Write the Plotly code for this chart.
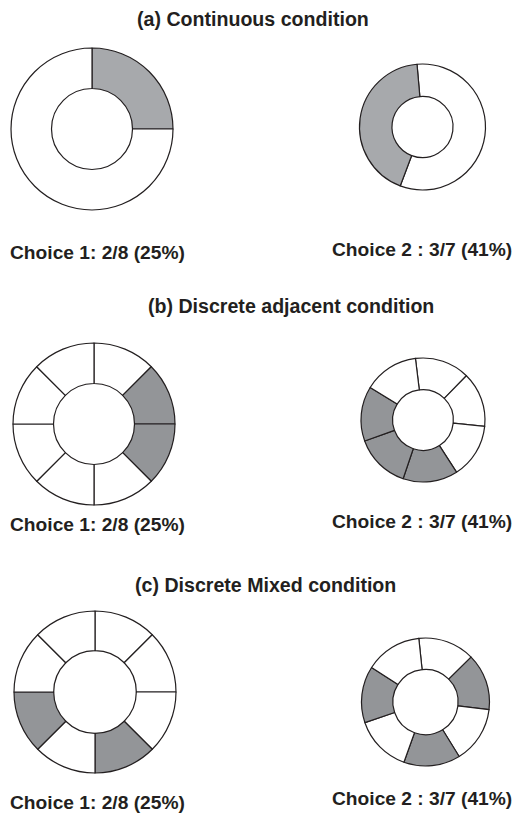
import plotly.graph_objects as go

W, H = 515, 816

# ---- data ----
titles = ["(a) Continuous condition", "(b) Discrete adjacent condition", "(c) Discrete Mixed condition"]
labels_left = ["Choice 1: 2/8 (25%)", "Choice 1: 2/8 (25%)", "Choice 1: 2/8 (25%)"]
labels_right = ["Choice 2 : 3/7 (41%)", "Choice 2 : 3/7 (41%)", "Choice 2 : 3/7 (41%)"]

# continuous: segment sizes (clockwise order) and whether filled
cont_c1_values = [2, 6]
cont_c1_filled = [1, 0]
cont_c2_values = [4, 3]
cont_c2_filled = [0, 1]

# discrete: one unit per segment, 1 = filled
adjacent_c1 = [0, 1, 1, 0, 0, 0, 0, 0]
adjacent_c2 = [0, 0, 0, 1, 1, 1, 0]
mixed_c1 = [0, 0, 0, 1, 0, 1, 0, 0]
mixed_c2 = [0, 1, 0, 1, 0, 1, 0]

FONT = "Arial, 'Liberation Sans', Helvetica, sans-serif"
GRAY_A = "#a7a9ac"
GRAY_BC = "#939598"


def dom(cx, cy, r):
    return dict(x=[(cx - r) / W, (cx + r) / W], y=[(H - cy - r) / H, (H - cy + r) / H])


def pie(values, filled, gray, cx, cy, r, hole, rotation):
    return go.Pie(
        values=values,
        sort=False,
        direction="clockwise",
        rotation=rotation,
        hole=hole,
        textinfo="none",
        hoverinfo="skip",
        showlegend=False,
        marker=dict(colors=[gray if f else "white" for f in filled],
                    line=dict(color="#231f20", width=1.2)),
        domain=dom(cx, cy, r),
    )


fig = go.Figure()
fig.add_trace(pie(cont_c1_values, cont_c1_filled, GRAY_A, 92, 129, 81, 0.5, 0))
fig.add_trace(pie(cont_c2_values, cont_c2_filled, GRAY_A, 422.5, 127, 63, 0.485, -5))
fig.add_trace(pie([1] * len(adjacent_c1), adjacent_c1, GRAY_BC, 94, 424, 81, 0.5, 0))
fig.add_trace(pie([1] * len(adjacent_c2), adjacent_c2, GRAY_BC, 423, 420, 62, 0.49, -7))
fig.add_trace(pie([1] * len(mixed_c1), mixed_c1, GRAY_BC, 95, 692, 81, 0.51, 0))
fig.add_trace(pie([1] * len(mixed_c2), mixed_c2, GRAY_BC, 425.5, 702, 64, 0.51, -6))

annotations = []
title_pos = [(253, 19), (290.5, 306), (265, 585)]
left_pos = [(8, 252), (8, 524), (8, 802)]
right_pos = [(330, 249), (330, 521), (330, 798)]


def ann(text, x, y, anchor, size):
    return dict(text="<b>%s</b>" % text, x=x / W, y=1 - y / H, xref="paper", yref="paper",
                xanchor=anchor, yanchor="middle", showarrow=False,
                font=dict(family=FONT, size=size, color="#231f20"))


for i in range(3):
    annotations.append(ann(titles[i], title_pos[i][0], title_pos[i][1], "center", 19.6))
    annotations.append(ann(labels_left[i], left_pos[i][0], left_pos[i][1], "left", 19.2))
    annotations.append(ann(labels_right[i], right_pos[i][0], right_pos[i][1], "left", 19.2))

fig.update_layout(
    width=W, height=H,
    margin=dict(l=0, r=0, t=0, b=0),
    paper_bgcolor="white", plot_bgcolor="white",
    annotations=annotations,
)

fig.write_html("out.html", post_script="document.body.style.margin='0';",
               config={"displayModeBar": False})
